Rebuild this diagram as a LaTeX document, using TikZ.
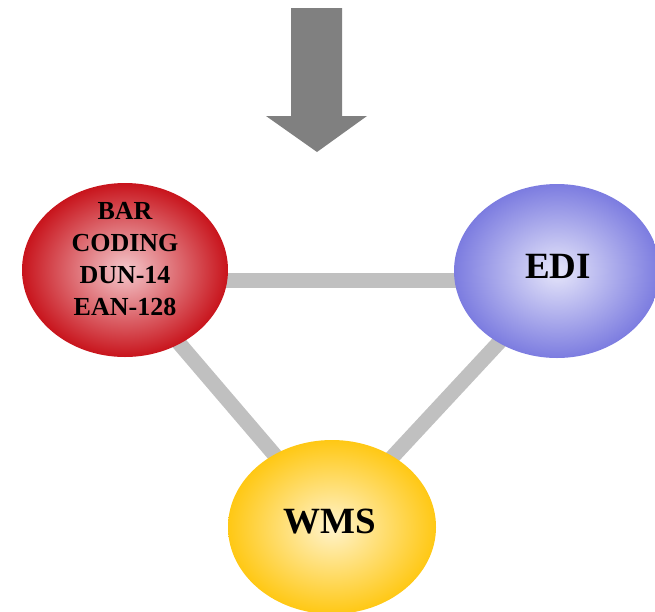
\documentclass[tikz,border=0pt]{standalone}
\usepackage{fontspec}
\setmainfont{Liberation Serif}
\usetikzlibrary{shapes.geometric,backgrounds}
\definecolor{linkgray}{HTML}{C0C0C0}
\definecolor{arrowgray}{HTML}{808080}
\definecolor{redout}{HTML}{C8141C}
\definecolor{redin}{HTML}{F4C8CC}
\definecolor{blueout}{HTML}{7C7CE0}
\definecolor{bluein}{HTML}{E6E6FA}
\definecolor{yelout}{HTML}{FFC814}
\definecolor{yelin}{HTML}{FFF3CC}
\tikzset{
  blob/.style={ellipse, minimum width=206pt, minimum height=174pt, inner sep=0pt, shading=radial},
  link/.style={draw=linkgray, line width=15pt},
  bigtxt/.style={font=\bfseries\fontsize{37}{44}\selectfont, inner sep=0pt},
  smalltxt/.style={font=\bfseries\fontsize{26}{32}\selectfont, inner sep=0pt, align=center}
}
\begin{document}
\begin{tikzpicture}[x=1pt,y=-1pt]
\useasboundingbox (0,0) rectangle (655,611);
% down arrow
\fill[arrowgray] (291,8) -- (342,8) -- (342,116) -- (367,116) -- (317,152) -- (266,116) -- (291,116) -- cycle;
% ellipses
\node[blob, inner color=redin, outer color=redout] (bar) at (125,270) {};
\node[blob, inner color=bluein, outer color=blueout] (edi) at (557,271) {};
\node[blob, inner color=yelin, outer color=yelout, minimum width=208pt] (wms) at (332,527) {};
% connectors behind
\begin{scope}[on background layer]
\draw[link] ([yshift=-10pt]bar.center) -- ([yshift=-9pt]edi.center);
\draw[link] ([yshift=-10pt]bar.center) -- ([yshift=5pt]wms.center);
\draw[link] ([yshift=-9pt]edi.center) -- ([yshift=5pt]wms.center);
\end{scope}
% labels
\node[smalltxt] (bartxt) at (125,259) {BAR\\CODING\\DUN-14\\EAN-128};
\node[bigtxt, anchor=base] (editxt) at (558,278.5) {EDI};
\node[bigtxt, anchor=base] (wmstxt) at (330,533) {WMS};
\end{tikzpicture}
\end{document}
